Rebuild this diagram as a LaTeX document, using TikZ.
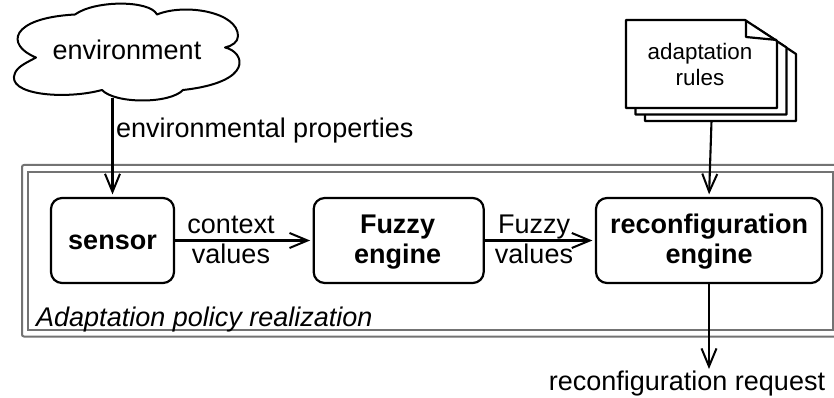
\documentclass[tikz,border=0pt]{standalone}
\usepackage{fontspec}
\setmainfont{Liberation Sans}
\usetikzlibrary{arrows.meta}
\newcommand{\bigtxt}{\fontsize{27}{31}\selectfont}
\newcommand{\smalltxt}{\fontsize{22.4}{27}\selectfont}
\tikzset{
  frameline/.style={draw=black!55,line width=2pt,rounded corners=2pt},
  proc/.style={draw=black,line width=2.2pt,rounded corners=11pt,fill=white},
  sheet/.style={draw=black,line width=2.2pt,fill=white,line join=round},
  conn/.style={line width=2.1pt,shorten >=2.5pt,-{Straight Barb[length=18pt,width=15pt,line width=2pt]}},
  txt/.style={font=\bigtxt,inner sep=0pt,anchor=base},
  boldtxt/.style={font=\bigtxt\bfseries,inner sep=0pt,anchor=base,align=center},
}
\begin{document}
\begin{tikzpicture}[x=1pt,y=-1pt]
\useasboundingbox (0,0) rectangle (834,398);
% frames
\draw[frameline] (840,165) -- (22,165) -- (22,336.5) -- (840,336.5);
\draw[frameline,rounded corners=0pt] (833,172) -- (28,172) -- (28,329.5) -- (833,329.5) -- cycle;
% cloud
\draw[line width=2pt,fill=white,line join=round]
  (36,57.5) .. controls (5,45) and (10,18) .. (75,14.5)
  .. controls (95,0) and (150,0) .. (157,14.5)
  .. controls (185,3) and (238,12) .. (238,36)
  .. controls (238,42) and (232,46) .. (225,47.5)
  .. controls (245,52) and (255,82) .. (183,90)
  .. controls (170,104) and (115,104) .. (102,90)
  .. controls (65,100) and (5,95) .. (15,73)
  .. controls (18,66) and (28,62) .. (36,57.5) -- cycle;
\node[txt] (env) at (127,60) {environment};
\coordinate (envtap) at (112.5,98);
% document stack
\foreach \dx/\dy in {19/13,9.5/6.5,0/0}{
  \draw[sheet,shift={(\dx,\dy)}] (626,20) -- (745,20) -- (777,41) -- (777,108) -- (626,108) -- cycle;
}
\draw[line width=2.2pt,line join=round] (746,20) -- (746,37) -- (777,40);
\node[font=\smalltxt,inner sep=0pt,anchor=base] (rules1) at (700,59.5) {adaptation};
\node[font=\smalltxt,inner sep=0pt,anchor=base] (rules2) at (700,86) {rules};
\coordinate (rulestap) at (711.5,121);
% process boxes
\node[proc,minimum width=123pt,minimum height=85pt,inner sep=0pt] (sensor) at (112.5,240.5) {};
\node[proc,minimum width=170pt,minimum height=85pt,inner sep=0pt] (fuzzy) at (398.7,240.5) {};
\node[proc,minimum width=226pt,minimum height=85pt,inner sep=0pt] (reconf) at (709,240.5) {};
\node[boldtxt] (sensorlabel) at (112.5,249) {sensor};
\node[boldtxt] (fuzzy1) at (397.5,233) {Fuzzy};
\node[boldtxt] (fuzzy2) at (397.5,263.5) {engine};
\node[boldtxt] (reconf1) at (709,233) {reconfiguration};
\node[boldtxt] (reconf2) at (709,263.5) {engine};
% connectors
\coordinate (out) at (709,369);
\draw[conn] (envtap) -- (sensor.north);
\draw[conn] (sensor.east) -- (fuzzy.west);
\draw[conn] (fuzzy.east) -- (reconf.west);
\draw[conn] (rulestap) -- (reconf.north);
\draw[conn,shorten >=0pt] (reconf.south) -- (out);
% labels
\node[txt,anchor=base west] (props) at (116,138) {environmental properties};
\node[txt] (ctx1) at (231,233) {context};
\node[txt] (ctx2) at (231,263.5) {values};
\node[txt] (fv1) at (534,233) {Fuzzy};
\node[txt] (fv2) at (534,263.5) {values};
\node[font=\fontsize{27}{30}\selectfont\itshape,inner sep=0pt,anchor=base west] (policy) at (36,326) {Adaptation policy realization};
\node[txt] (request) at (687,390) {reconfiguration request};
\end{tikzpicture}
\end{document}
